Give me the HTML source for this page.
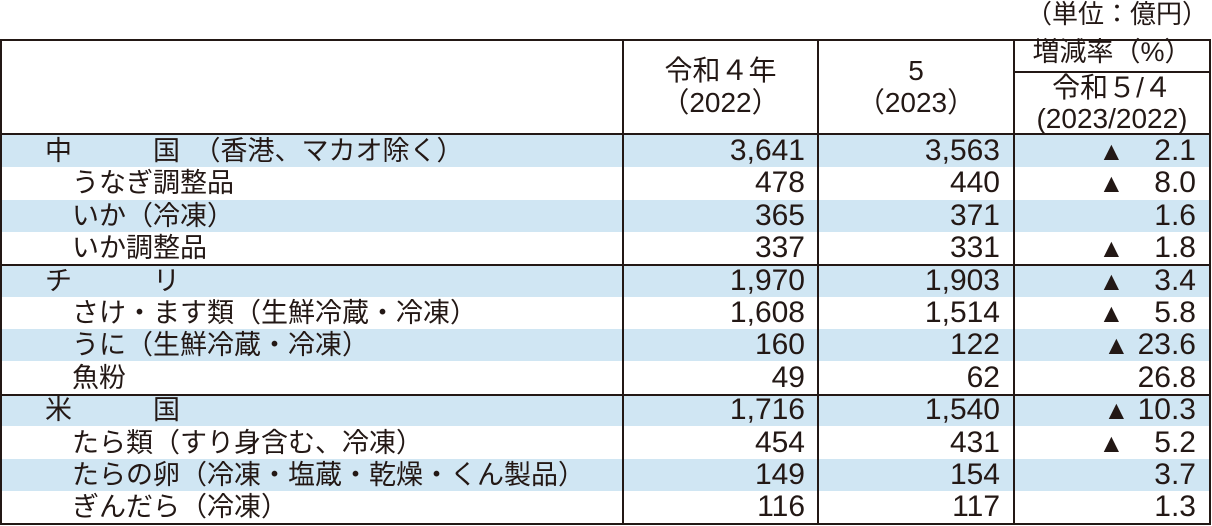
<!DOCTYPE html>
<html><head><meta charset="utf-8">
<style>
body{margin:0;width:1212px;height:526px;background:#fff;position:relative;overflow:hidden;font-family:"Liberation Sans","Noto Sans CJK JP",sans-serif;color:#231815}
.a{position:absolute}
.hl{position:absolute;height:2px;background:#231815}
.vl{position:absolute;width:2px;background:#231815}
.band{position:absolute;left:2px;width:1207px;height:32px;background:#d0e6f3}
.t{position:absolute;font-size:27px;line-height:32px;white-space:pre}
.n{position:absolute;font-size:30px;line-height:32px;text-align:right;white-space:pre}
.h{position:absolute;font-size:27px;line-height:32px;text-align:center;white-space:nowrap}
.tri{font-size:26px}
</style></head><body>
<div class="a" style="right:4px;top:-2px;font-size:26px;line-height:32px">（単位：億円）</div>
<div id="rows"></div>
<div class="hl" style="left:0;top:39px;width:1211px"></div>
<div class="hl" style="left:0;top:133px;width:1211px"></div>
<div class="hl" style="left:1013px;top:71px;width:198px;height:1.5px"></div>
<div class="hl" style="left:0;top:264px;width:1211px"></div>
<div class="hl" style="left:0;top:394px;width:1211px"></div>
<div class="hl" style="left:0;top:523px;width:1211px"></div>
<div class="vl" style="left:0;top:39px;height:486px"></div>
<div class="vl" style="left:622px;top:39px;height:486px"></div>
<div class="vl" style="left:817px;top:39px;height:486px"></div>
<div class="vl" style="left:1013px;top:39px;height:486px"></div>
<div class="vl" style="left:1209px;top:39px;height:486px"></div>
<div class="h" style="left:624px;width:193px;top:55px;font-size:28px">令和４年<br>（2022）</div>
<div class="h" style="left:819px;width:194px;top:55px;font-size:28px">5<br>（2023）</div>
<div class="h" style="left:1015px;width:194px;top:36px">増減率（%）</div>
<div class="h" style="left:1015px;width:194px;top:72px;line-height:31px;font-size:28px">令和５/４<br>(2023/2022)</div>
<script>
const labels=["中　　　国　（香港、マカオ除く）","　うなぎ調整品","　いか（冷凍）","　いか調整品","チ　　　リ","　さけ・ます類（生鮮冷蔵・冷凍）","　うに（生鮮冷蔵・冷凍）","　魚粉","米　　　国","　たら類（すり身含む、冷凍）","　たらの卵（冷凍・塩蔵・乾燥・くん製品）","　ぎんだら（冷凍）"];
const v2022=["3,641","478","365","337","1,970","1,608","160","49","1,716","454","149","116"];
const v2023=["3,563","440","371","331","1,903","1,514","122","62","1,540","431","154","117"];
const rates=["▲　2.1","▲　8.0","1.6","▲　1.8","▲　3.4","▲　5.8","▲ 23.6","26.8","▲ 10.3","▲　5.2","3.7","1.3"];
const root=document.getElementById('rows');
const top0=135,rh=32.4;
labels.forEach((lab,i)=>{
  const y=top0+i*rh;
  if(i%2===0){const b=document.createElement('div');b.className='band';b.style.top=y+'px';
    
    
    root.appendChild(b);}
  const t=document.createElement('div');t.className='t';t.textContent=lab;t.style.left='45px';t.style.top=y+'px';
  
  
  root.appendChild(t);
  [[v2022[i],624,181],[v2023[i],819,181],[rates[i],1015,181]].forEach(([s,l,w],k)=>{
    const n=document.createElement('div');n.className='n';n.style.left=l+'px';n.style.width=w+'px';n.style.top=y+'px';
    if(k===2&&s.startsWith('▲')){
      const tr=document.createElement('span');tr.className='tri';tr.textContent='▲';
      n.appendChild(tr);n.appendChild(document.createTextNode(s.slice(1)));
    } else n.textContent=s;
    
    
    root.appendChild(n);
  });
});
</script>
</body></html>
